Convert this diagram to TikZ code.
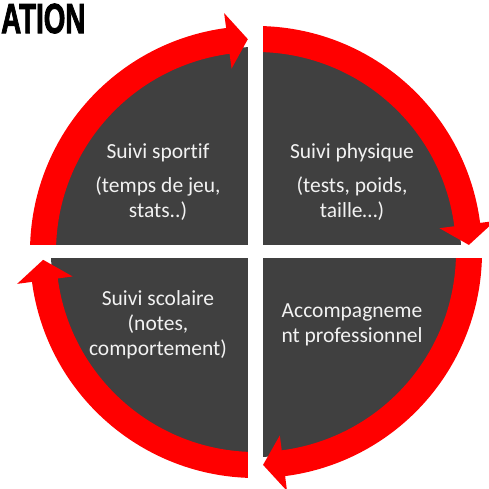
\documentclass[tikz,border=0pt]{standalone}
\usepackage{fontspec}
\setmainfont{Carlito}[Ligatures={NoCommon}]
\newfontfamily\titlefont{Liberation Sans}[BoldFeatures={FakeBold=2.5}]
\definecolor{quadgray}{HTML}{404040}
\definecolor{ringred}{HTML}{FF0000}
\definecolor{labelwhite}{HTML}{F2F2F2}
\begin{document}
\begin{tikzpicture}[x=1pt,y=1pt]
\useasboundingbox (-256,-236) rectangle (233,252);

% definitions
\tikzstyle{quarter} = [text centered, align=center, text=labelwhite, font=\fontsize{21.5}{25}\selectfont]

\tikzstyle{ring} = [fill=ringred]

\tikzstyle{gap} = [fill=white]

% disk
\fill[quadgray] (0,0) circle (205);

% ring arrows, clockwise
\fill[ring] (180:226) arc[start angle=180, end angle=97.6, radius=226] -- (97.6:241) -- (92.2:213) -- (97.6:185) -- (97.6:200) arc[start angle=97.6, end angle=180, radius=200] -- cycle;

\fill[ring] (90:226) arc[start angle=90, end angle=7.4, radius=226] -- (7.4:241) -- (1.9:213) -- (7.4:185) -- (7.4:200) arc[start angle=7.4, end angle=90, radius=200] -- cycle;

\fill[ring] (0:226) arc[start angle=0, end angle=-82.6, radius=226] -- (-82.6:241) -- (-88.1:213) -- (-82.6:185) -- (-82.6:200) arc[start angle=-82.6, end angle=0, radius=200] -- cycle;

\fill[ring] (270:226) arc[start angle=270, end angle=187.6, radius=226] -- (187.6:241) -- (182.1:213) -- (187.6:185) -- (187.6:200) arc[start angle=187.6, end angle=270, radius=200] -- cycle;

% separators
\fill[gap] (-8,-232) rectangle (7,232);
\fill[gap] (-232,-6) rectangle (232,7);

% the labels
\node (sportif) [quarter] at (-98,70) {Suivi sportif\\[9pt](temps de jeu,\\stats..)};

\node (physique) [quarter] at (96,70) {Suivi physique\\[9pt](tests, poids,\\taille…)};

\node (scolaire) [quarter] at (-98,-73) {Suivi scolaire\\(notes,\\comportement)};

\node (pro) [quarter] at (96,-73) {Accompagneme\\nt professionnel};

% title
\node (titre) [anchor=base west, inner sep=0pt, font=\titlefont\bfseries\fontsize{42}{42}\selectfont] at (-255,219) {\scalebox{0.66}[1]{ATION}};

\end{tikzpicture}
\end{document}
